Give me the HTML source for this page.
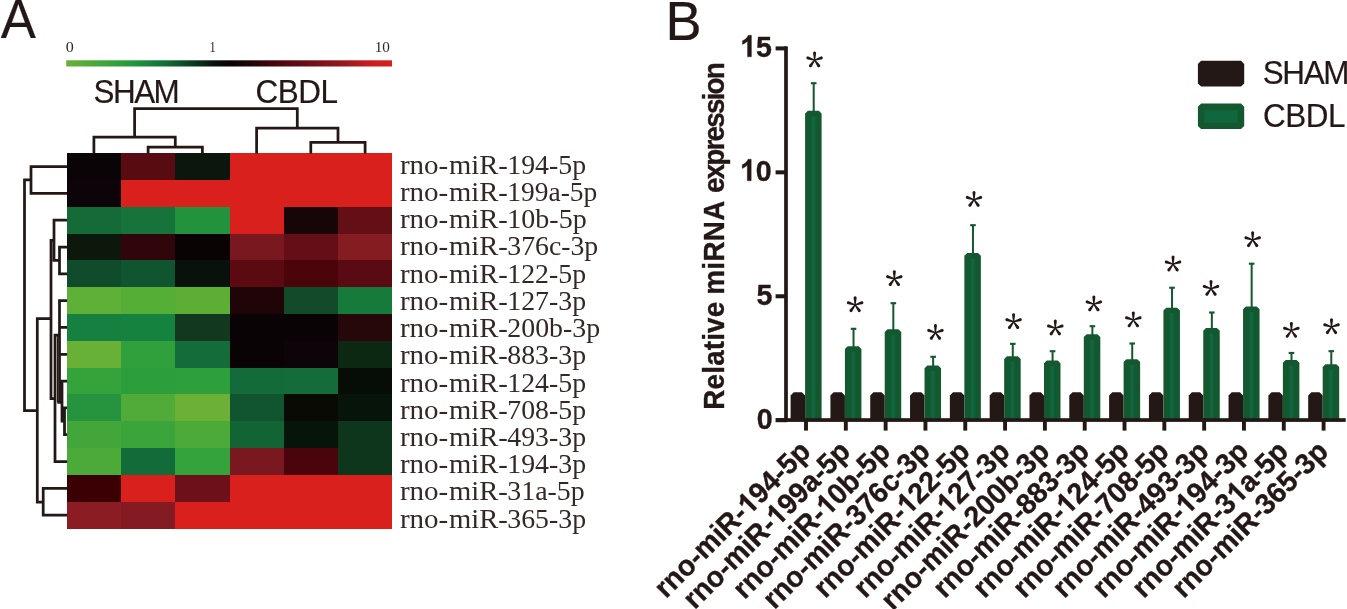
<!DOCTYPE html>
<html><head><meta charset="utf-8"><title>figure</title>
<style>
html,body{margin:0;padding:0;background:#fff;}
body{width:1347px;height:609px;overflow:hidden;position:relative;}
svg{position:absolute;left:0;top:0;display:block;will-change:transform;}
text{font-family:"Liberation Sans",sans-serif;fill:#231815;font-kerning:none;white-space:pre;stroke:#231815;stroke-width:0.2px;}
.sf{font-family:"Liberation Serif",serif;stroke:none;fill:#332825;}
.b{font-weight:bold;stroke:#231815;stroke-width:0.35px;}
.h{fill:none;stroke:none;}
</style></head><body>
<svg width="1347" height="609" viewBox="0 0 1347 609">
<defs>
<linearGradient id="cb" x1="0" y1="0" x2="1" y2="0">
<stop offset="0.00" stop-color="#6ab135"/>
<stop offset="0.10" stop-color="#45a739"/>
<stop offset="0.20" stop-color="#229a3c"/>
<stop offset="0.30" stop-color="#137038"/>
<stop offset="0.38" stop-color="#0d4022"/>
<stop offset="0.45" stop-color="#08140b"/>
<stop offset="0.50" stop-color="#070304"/>
<stop offset="0.56" stop-color="#1c0406"/>
<stop offset="0.65" stop-color="#4a060c"/>
<stop offset="0.75" stop-color="#6e101a"/>
<stop offset="0.85" stop-color="#93191f"/>
<stop offset="0.93" stop-color="#c61e1e"/>
<stop offset="1.00" stop-color="#d9201d"/>
</linearGradient>
<linearGradient id="bh" x1="0" y1="0" x2="1" y2="0"><stop offset="0" stop-color="#13582f"/><stop offset="0.3" stop-color="#11633b"/><stop offset="0.5" stop-color="#0f6a43"/><stop offset="0.7" stop-color="#11633b"/><stop offset="1" stop-color="#13582f"/></linearGradient>
<g id="ast" fill="#231815">
<path d="M-0.55 0.3 L-1.45 -6.5 A1.55 1.55 0 1 1 1.45 -6.5 L0.55 0.3 Z" transform="rotate(0)"/>
<path d="M-0.55 0.3 L-1.45 -6.5 A1.55 1.55 0 1 1 1.45 -6.5 L0.55 0.3 Z" transform="rotate(72)"/>
<path d="M-0.55 0.3 L-1.45 -6.5 A1.55 1.55 0 1 1 1.45 -6.5 L0.55 0.3 Z" transform="rotate(144)"/>
<path d="M-0.55 0.3 L-1.45 -6.5 A1.55 1.55 0 1 1 1.45 -6.5 L0.55 0.3 Z" transform="rotate(216)"/>
<path d="M-0.55 0.3 L-1.45 -6.5 A1.55 1.55 0 1 1 1.45 -6.5 L0.55 0.3 Z" transform="rotate(288)"/>
</g>
</defs>
<text font-size="53.60" x="-0.10" y="0" transform="translate(0.80 38.40) scale(0.9820 1.0413)">A</text>
<rect x="66.2" y="60.3" width="325.8" height="6.2" fill="url(#cb)"/>
<text class="sf" font-size="14.50" x="-0.55" y="0" transform="translate(66.30 51.90) scale(1.1065 1.0000)">0</text>
<text class="sf" font-size="14.50" x="-1.27" y="0" transform="translate(210.50 51.90) scale(0.8619 1.0000)">1</text>
<text class="sf" font-size="14.50" x="-1.27" y="0" transform="translate(376.00 51.90) scale(1.0494 1.0000)">10</text>
<text font-size="31.40" x="-1.43" y="0" letter-spacing="-1.506" transform="translate(95.00 102.90) scale(1 1.0323)">SHAM</text>
<text font-size="31.40" x="-1.59" y="0" letter-spacing="-0.474" transform="translate(257.10 102.90) scale(1 1.0323)">CBDL</text>
<g shape-rendering="crispEdges">
<rect x="67" y="153" width="54" height="27" fill="#0b0406"/>
<rect x="121" y="153" width="54" height="27" fill="#580b10"/>
<rect x="175" y="153" width="55" height="27" fill="#0b160c"/>
<rect x="230" y="153" width="54" height="27" fill="#d9201d"/>
<rect x="284" y="153" width="54" height="27" fill="#d9201d"/>
<rect x="338" y="153" width="54" height="27" fill="#d9201d"/>
<rect x="67" y="180" width="54" height="27" fill="#0c0408"/>
<rect x="121" y="180" width="54" height="27" fill="#d9201d"/>
<rect x="175" y="180" width="55" height="27" fill="#d9201d"/>
<rect x="230" y="180" width="54" height="27" fill="#d9201d"/>
<rect x="284" y="180" width="54" height="27" fill="#d9201d"/>
<rect x="338" y="180" width="54" height="27" fill="#d9201d"/>
<rect x="67" y="207" width="54" height="27" fill="#146b38"/>
<rect x="121" y="207" width="54" height="27" fill="#16733a"/>
<rect x="175" y="207" width="55" height="27" fill="#23923c"/>
<rect x="230" y="207" width="54" height="27" fill="#d9201d"/>
<rect x="284" y="207" width="54" height="27" fill="#170508"/>
<rect x="338" y="207" width="54" height="27" fill="#640e16"/>
<rect x="67" y="234" width="54" height="26" fill="#0c180b"/>
<rect x="121" y="234" width="54" height="26" fill="#30060a"/>
<rect x="175" y="234" width="55" height="26" fill="#090303"/>
<rect x="230" y="234" width="54" height="26" fill="#7a1820"/>
<rect x="284" y="234" width="54" height="26" fill="#660e18"/>
<rect x="338" y="234" width="54" height="26" fill="#851c22"/>
<rect x="67" y="260" width="54" height="27" fill="#104c2c"/>
<rect x="121" y="260" width="54" height="27" fill="#10552f"/>
<rect x="175" y="260" width="55" height="27" fill="#09120a"/>
<rect x="230" y="260" width="54" height="27" fill="#5c0a12"/>
<rect x="284" y="260" width="54" height="27" fill="#4a040a"/>
<rect x="338" y="260" width="54" height="27" fill="#5a0a12"/>
<rect x="67" y="287" width="54" height="27" fill="#5fb036"/>
<rect x="121" y="287" width="54" height="27" fill="#55ae36"/>
<rect x="175" y="287" width="55" height="27" fill="#5cae34"/>
<rect x="230" y="287" width="54" height="27" fill="#200508"/>
<rect x="284" y="287" width="54" height="27" fill="#124a2a"/>
<rect x="338" y="287" width="54" height="27" fill="#157a3a"/>
<rect x="67" y="314" width="54" height="27" fill="#158040"/>
<rect x="121" y="314" width="54" height="27" fill="#158240"/>
<rect x="175" y="314" width="55" height="27" fill="#12381f"/>
<rect x="230" y="314" width="54" height="27" fill="#0a0305"/>
<rect x="284" y="314" width="54" height="27" fill="#0a0305"/>
<rect x="338" y="314" width="54" height="27" fill="#26070a"/>
<rect x="67" y="341" width="54" height="27" fill="#68b036"/>
<rect x="121" y="341" width="54" height="27" fill="#2fa03c"/>
<rect x="175" y="341" width="55" height="27" fill="#136c3a"/>
<rect x="230" y="341" width="54" height="27" fill="#0a0305"/>
<rect x="284" y="341" width="54" height="27" fill="#0c0408"/>
<rect x="338" y="341" width="54" height="27" fill="#0c2812"/>
<rect x="67" y="368" width="54" height="26" fill="#34a33b"/>
<rect x="121" y="368" width="54" height="26" fill="#2c9f3c"/>
<rect x="175" y="368" width="55" height="26" fill="#2da03c"/>
<rect x="230" y="368" width="54" height="26" fill="#136b39"/>
<rect x="284" y="368" width="54" height="26" fill="#146c3a"/>
<rect x="338" y="368" width="54" height="26" fill="#060c06"/>
<rect x="67" y="394" width="54" height="27" fill="#26943f"/>
<rect x="121" y="394" width="54" height="27" fill="#50ab38"/>
<rect x="175" y="394" width="55" height="27" fill="#6cb035"/>
<rect x="230" y="394" width="54" height="27" fill="#10552f"/>
<rect x="284" y="394" width="54" height="27" fill="#0a0a05"/>
<rect x="338" y="394" width="54" height="27" fill="#07140a"/>
<rect x="67" y="421" width="54" height="27" fill="#42a63a"/>
<rect x="121" y="421" width="54" height="27" fill="#3ba43a"/>
<rect x="175" y="421" width="55" height="27" fill="#4caa38"/>
<rect x="230" y="421" width="54" height="27" fill="#126435"/>
<rect x="284" y="421" width="54" height="27" fill="#07140a"/>
<rect x="338" y="421" width="54" height="27" fill="#0e361c"/>
<rect x="67" y="448" width="54" height="27" fill="#4caa38"/>
<rect x="121" y="448" width="54" height="27" fill="#126c3a"/>
<rect x="175" y="448" width="55" height="27" fill="#34a33b"/>
<rect x="230" y="448" width="54" height="27" fill="#7a1820"/>
<rect x="284" y="448" width="54" height="27" fill="#4c040c"/>
<rect x="338" y="448" width="54" height="27" fill="#0e361c"/>
<rect x="67" y="475" width="54" height="27" fill="#3a0004"/>
<rect x="121" y="475" width="54" height="27" fill="#d9201d"/>
<rect x="175" y="475" width="55" height="27" fill="#6e101a"/>
<rect x="230" y="475" width="54" height="27" fill="#d9201d"/>
<rect x="284" y="475" width="54" height="27" fill="#d9201d"/>
<rect x="338" y="475" width="54" height="27" fill="#d9201d"/>
<rect x="67" y="502" width="54" height="27" fill="#8c1c24"/>
<rect x="121" y="502" width="54" height="27" fill="#841a22"/>
<rect x="175" y="502" width="55" height="27" fill="#d9201d"/>
<rect x="230" y="502" width="54" height="27" fill="#d9201d"/>
<rect x="284" y="502" width="54" height="27" fill="#d9201d"/>
<rect x="338" y="502" width="54" height="27" fill="#d9201d"/>
</g>
<text class="sf" font-size="27.10" x="-0.54" y="0" transform="translate(400.50 173.80) scale(1.0704 1.0000)">rno-</text>
<text class="sf" font-size="27.10" x="-0.57" y="0" transform="translate(449.60 173.80) scale(1.0580 1.0000)">miR-</text>
<text class="sf" font-size="27.10" x="0" y="0" transform="translate(507.30 173.80) scale(1.0262 1)">194-5p</text>
<text class="sf" font-size="27.10" x="-0.54" y="0" transform="translate(400.50 201.02) scale(1.0704 1.0000)">rno-</text>
<text class="sf" font-size="27.10" x="-0.57" y="0" transform="translate(449.60 201.02) scale(1.0580 1.0000)">miR-</text>
<text class="sf" font-size="27.10" x="0" y="0" transform="translate(507.30 201.02) scale(1.0143 1)">199a-5p</text>
<text class="sf" font-size="27.10" x="-0.54" y="0" transform="translate(400.50 228.24) scale(1.0704 1.0000)">rno-</text>
<text class="sf" font-size="27.10" x="-0.57" y="0" transform="translate(449.60 228.24) scale(1.0580 1.0000)">miR-</text>
<text class="sf" font-size="27.10" x="0" y="0" transform="translate(507.30 228.24) scale(1.0341 1)">10b-5p</text>
<text class="sf" font-size="27.10" x="-0.54" y="0" transform="translate(400.50 255.46) scale(1.0704 1.0000)">rno-</text>
<text class="sf" font-size="27.10" x="-0.57" y="0" transform="translate(449.60 255.46) scale(1.0580 1.0000)">miR-</text>
<text class="sf" font-size="27.10" x="0" y="0" transform="translate(507.30 255.46) scale(1.0246 1)">376c-3p</text>
<text class="sf" font-size="27.10" x="-0.54" y="0" transform="translate(400.50 282.68) scale(1.0704 1.0000)">rno-</text>
<text class="sf" font-size="27.10" x="-0.57" y="0" transform="translate(449.60 282.68) scale(1.0580 1.0000)">miR-</text>
<text class="sf" font-size="27.10" x="0" y="0" transform="translate(507.30 282.68) scale(1.0262 1)">122-5p</text>
<text class="sf" font-size="27.10" x="-0.54" y="0" transform="translate(400.50 309.90) scale(1.0704 1.0000)">rno-</text>
<text class="sf" font-size="27.10" x="-0.57" y="0" transform="translate(449.60 309.90) scale(1.0580 1.0000)">miR-</text>
<text class="sf" font-size="27.10" x="0" y="0" transform="translate(507.30 309.90) scale(1.0262 1)">127-3p</text>
<text class="sf" font-size="27.10" x="-0.54" y="0" transform="translate(400.50 337.12) scale(1.0704 1.0000)">rno-</text>
<text class="sf" font-size="27.10" x="-0.57" y="0" transform="translate(449.60 337.12) scale(1.0580 1.0000)">miR-</text>
<text class="sf" font-size="27.10" x="0" y="0" transform="translate(507.30 337.12) scale(1.0273 1)">200b-3p</text>
<text class="sf" font-size="27.10" x="-0.54" y="0" transform="translate(400.50 364.34) scale(1.0704 1.0000)">rno-</text>
<text class="sf" font-size="27.10" x="-0.57" y="0" transform="translate(449.60 364.34) scale(1.0580 1.0000)">miR-</text>
<text class="sf" font-size="27.10" x="0" y="0" transform="translate(507.30 364.34) scale(1.0262 1)">883-3p</text>
<text class="sf" font-size="27.10" x="-0.54" y="0" transform="translate(400.50 391.56) scale(1.0704 1.0000)">rno-</text>
<text class="sf" font-size="27.10" x="-0.57" y="0" transform="translate(449.60 391.56) scale(1.0580 1.0000)">miR-</text>
<text class="sf" font-size="27.10" x="0" y="0" transform="translate(507.30 391.56) scale(1.0262 1)">124-5p</text>
<text class="sf" font-size="27.10" x="-0.54" y="0" transform="translate(400.50 418.78) scale(1.0704 1.0000)">rno-</text>
<text class="sf" font-size="27.10" x="-0.57" y="0" transform="translate(449.60 418.78) scale(1.0580 1.0000)">miR-</text>
<text class="sf" font-size="27.10" x="0" y="0" transform="translate(507.30 418.78) scale(1.0262 1)">708-5p</text>
<text class="sf" font-size="27.10" x="-0.54" y="0" transform="translate(400.50 446.00) scale(1.0704 1.0000)">rno-</text>
<text class="sf" font-size="27.10" x="-0.57" y="0" transform="translate(449.60 446.00) scale(1.0580 1.0000)">miR-</text>
<text class="sf" font-size="27.10" x="0" y="0" transform="translate(507.30 446.00) scale(1.0262 1)">493-3p</text>
<text class="sf" font-size="27.10" x="-0.54" y="0" transform="translate(400.50 473.22) scale(1.0704 1.0000)">rno-</text>
<text class="sf" font-size="27.10" x="-0.57" y="0" transform="translate(449.60 473.22) scale(1.0580 1.0000)">miR-</text>
<text class="sf" font-size="27.10" x="0" y="0" transform="translate(507.30 473.22) scale(1.0262 1)">194-3p</text>
<text class="sf" font-size="27.10" x="-0.54" y="0" transform="translate(400.50 500.44) scale(1.0704 1.0000)">rno-</text>
<text class="sf" font-size="27.10" x="-0.57" y="0" transform="translate(449.60 500.44) scale(1.0580 1.0000)">miR-</text>
<text class="sf" font-size="27.10" x="0" y="0" transform="translate(507.30 500.44) scale(1.0284 1)">31a-5p</text>
<text class="sf" font-size="27.10" x="-0.54" y="0" transform="translate(400.50 527.66) scale(1.0704 1.0000)">rno-</text>
<text class="sf" font-size="27.10" x="-0.57" y="0" transform="translate(449.60 527.66) scale(1.0580 1.0000)">miR-</text>
<text class="sf" font-size="27.10" x="0" y="0" transform="translate(507.30 527.66) scale(1.0262 1)">365-3p</text>
<path d="M148.1 153.4 V147 H202.4 V153.4 M175.3 147 V137 M93.9 153.4 V137 H176.6 M134.6 137 V108.6 H297.3 V128 M256.6 153.4 V128 H338.0 V142.4 M310.8 153.4 V142.4 H365.1 V153.4 " fill="none" stroke="#231815" stroke-width="2.75" stroke-linejoin="miter" stroke-linecap="butt"/>
<path d="M67.1 166.5 H31 V193.3 H67.1 M31 179.9 H24.5 V410.5 H37.3 M67.1 247.0 H59.5 V273.8 H67.1 M59.5 260.4 H54 M67.1 220.2 H54 V261.7 M54 240.3 H51 V398.5 H55 M51 318.6 H37.3 V502 H43.2 M67.1 488.4 H43.2 V515.2 H67.1 M67.1 300.6 H59.5 V402.3 M67.1 327.4 H59.5 M67.1 354.3 H59.5 M59.5 335 H55 V461.5 H67.1 M57.4 402.3 H62 M67.1 381.1 H62 V421 H64.5 M67.1 407.9 H64.5 V434.7 H67.1 " fill="none" stroke="#231815" stroke-width="2.75" stroke-linejoin="miter" stroke-linecap="butt"/>
<path d="M57.5 335.5 V402.3" fill="none" stroke="#231815" stroke-width="1.30" stroke-linejoin="miter" stroke-linecap="butt"/>
<text font-size="53.60" x="-4.40" y="0" transform="translate(670.00 39.90) scale(1.0096 1.0413)">B</text>
<g fill="#231815">
<rect x="784.15" y="46.40" width="3.70" height="375.65"/>
<rect x="775.6" y="418.20" width="11" height="4"/>
<rect x="775.6" y="294.27" width="11" height="4"/>
<rect x="775.6" y="170.33" width="11" height="4"/>
<rect x="775.6" y="46.40" width="11" height="4"/>
<rect x="804.05" y="420.20" width="3.9" height="10.40"/>
<rect x="843.87" y="420.20" width="3.9" height="10.40"/>
<rect x="883.68" y="420.20" width="3.9" height="10.40"/>
<rect x="923.49" y="420.20" width="3.9" height="10.40"/>
<rect x="963.31" y="420.20" width="3.9" height="10.40"/>
<rect x="1003.12" y="420.20" width="3.9" height="10.40"/>
<rect x="1042.94" y="420.20" width="3.9" height="10.40"/>
<rect x="1082.75" y="420.20" width="3.9" height="10.40"/>
<rect x="1122.57" y="420.20" width="3.9" height="10.40"/>
<rect x="1162.38" y="420.20" width="3.9" height="10.40"/>
<rect x="1202.20" y="420.20" width="3.9" height="10.40"/>
<rect x="1242.01" y="420.20" width="3.9" height="10.40"/>
<rect x="1281.83" y="420.20" width="3.9" height="10.40"/>
<rect x="1321.64" y="420.20" width="3.9" height="10.40"/>
</g>
<g transform="translate(756.67 428.65) scale(1 1.0469)">
<text class="b" font-size="28.60" x="0.00" y="0">0</text>
</g>
<g transform="translate(756.49 304.72) scale(1 1.0469)">
<text class="b" font-size="28.60" x="0.00" y="0">5</text>
</g>
<g transform="translate(739.96 180.78) scale(1 1.0469)">
<text class="b" font-size="28.60" x="0.00" y="0"><tspan class="h">1</tspan>0</text>
<path class="b" fill="#231815" d="M806 0H525V1059Q371 915 162 846V1101Q272 1137 401 1237.5Q530 1338 578 1472H806Z" transform="translate(0.00 0) scale(0.01396 -0.01396)" style="stroke-width:25.1px"/>
</g>
<g transform="translate(740.18 56.85) scale(1 1.0469)">
<text class="b" font-size="28.60" x="0.00" y="0"><tspan class="h">1</tspan>5</text>
<path class="b" fill="#231815" d="M806 0H525V1059Q371 915 162 846V1101Q272 1137 401 1237.5Q530 1338 578 1472H806Z" transform="translate(0.00 0) scale(0.01396 -0.01396)" style="stroke-width:25.1px"/>
</g>
<text class="b" font-size="27.80" x="-1.86" y="0" letter-spacing="0.183" transform="translate(724.3 407.80) rotate(-90) scale(1 1.0352)">Relative</text>
<text class="b" font-size="27.80" x="-1.83" y="0" letter-spacing="0.399" transform="translate(724.3 293.00) rotate(-90) scale(1 1.0352)">miRNA</text>
<text class="b" font-size="27.80" x="-1.09" y="0" letter-spacing="-1.787" transform="translate(724.3 191.90) rotate(-90) scale(1 1.0352)">expression</text>
<path d="M790.60 420.20 V395.50 L793.80 392.30 H801.90 L805.10 395.50 V420.20 Z" fill="#231815"/>
<path d="M805.10 420.20 V113.60 L807.90 110.80 H818.80 L821.60 113.60 V420.20 Z" fill="#13582f"/>
<rect x="810.20" y="116.40" width="6.4" height="303.80" fill="url(#bh)"/>
<rect x="812.70" y="83.20" width="2" height="28.60" fill="#13582f"/>
<rect x="810.90" y="82.15" width="5.6" height="2.1" fill="#13582f"/>
<use href="#ast" x="814.60" y="60.10"/>
<path d="M830.42 420.20 V395.50 L833.62 392.30 H841.72 L844.92 395.50 V420.20 Z" fill="#231815"/>
<path d="M844.92 420.20 V349.00 L847.72 346.20 H858.62 L861.42 349.00 V420.20 Z" fill="#13582f"/>
<rect x="850.02" y="351.80" width="6.4" height="68.40" fill="url(#bh)"/>
<rect x="852.52" y="328.80" width="2" height="18.40" fill="#13582f"/>
<rect x="850.72" y="327.75" width="5.6" height="2.1" fill="#13582f"/>
<use href="#ast" x="855.12" y="304.90"/>
<path d="M870.23 420.20 V395.50 L873.43 392.30 H881.53 L884.73 395.50 V420.20 Z" fill="#231815"/>
<path d="M884.73 420.20 V332.00 L887.53 329.20 H898.43 L901.23 332.00 V420.20 Z" fill="#13582f"/>
<rect x="889.83" y="334.80" width="6.4" height="85.40" fill="url(#bh)"/>
<rect x="892.33" y="303.20" width="2" height="27.00" fill="#13582f"/>
<rect x="890.53" y="302.15" width="5.6" height="2.1" fill="#13582f"/>
<use href="#ast" x="894.33" y="278.80"/>
<path d="M910.04 420.20 V395.50 L913.25 392.30 H921.34 L924.54 395.50 V420.20 Z" fill="#231815"/>
<path d="M924.54 420.20 V368.30 L927.34 365.50 H938.25 L941.04 368.30 V420.20 Z" fill="#13582f"/>
<rect x="929.64" y="371.10" width="6.4" height="49.10" fill="url(#bh)"/>
<rect x="932.14" y="356.80" width="2" height="9.70" fill="#13582f"/>
<rect x="930.35" y="355.75" width="5.6" height="2.1" fill="#13582f"/>
<use href="#ast" x="935.44" y="332.60"/>
<path d="M949.86 420.20 V395.50 L953.06 392.30 H961.16 L964.36 395.50 V420.20 Z" fill="#231815"/>
<path d="M964.36 420.20 V255.80 L967.16 253.00 H978.06 L980.86 255.80 V420.20 Z" fill="#13582f"/>
<rect x="969.46" y="258.60" width="6.4" height="161.60" fill="url(#bh)"/>
<rect x="971.96" y="225.20" width="2" height="28.80" fill="#13582f"/>
<rect x="970.16" y="224.15" width="5.6" height="2.1" fill="#13582f"/>
<use href="#ast" x="974.01" y="199.60"/>
<path d="M989.68 420.20 V395.50 L992.88 392.30 H1000.98 L1004.18 395.50 V420.20 Z" fill="#231815"/>
<path d="M1004.18 420.20 V359.00 L1006.98 356.20 H1017.88 L1020.68 359.00 V420.20 Z" fill="#13582f"/>
<rect x="1009.28" y="361.80" width="6.4" height="58.40" fill="url(#bh)"/>
<rect x="1011.78" y="343.85" width="2" height="13.35" fill="#13582f"/>
<rect x="1009.98" y="342.80" width="5.6" height="2.1" fill="#13582f"/>
<use href="#ast" x="1013.58" y="321.80"/>
<path d="M1029.49 420.20 V395.50 L1032.69 392.30 H1040.79 L1043.99 395.50 V420.20 Z" fill="#231815"/>
<path d="M1043.99 420.20 V363.20 L1046.79 360.40 H1057.69 L1060.49 363.20 V420.20 Z" fill="#13582f"/>
<rect x="1049.09" y="366.00" width="6.4" height="54.20" fill="url(#bh)"/>
<rect x="1051.59" y="351.20" width="2" height="10.20" fill="#13582f"/>
<rect x="1049.79" y="350.15" width="5.6" height="2.1" fill="#13582f"/>
<use href="#ast" x="1055.29" y="328.15"/>
<path d="M1069.30 420.20 V395.50 L1072.50 392.30 H1080.60 L1083.80 395.50 V420.20 Z" fill="#231815"/>
<path d="M1083.80 420.20 V337.10 L1086.60 334.30 H1097.50 L1100.30 337.10 V420.20 Z" fill="#13582f"/>
<rect x="1088.90" y="339.90" width="6.4" height="80.30" fill="url(#bh)"/>
<rect x="1091.40" y="326.20" width="2" height="9.10" fill="#13582f"/>
<rect x="1089.61" y="325.15" width="5.6" height="2.1" fill="#13582f"/>
<use href="#ast" x="1093.86" y="304.10"/>
<path d="M1109.12 420.20 V395.50 L1112.32 392.30 H1120.42 L1123.62 395.50 V420.20 Z" fill="#231815"/>
<path d="M1123.62 420.20 V361.95 L1126.42 359.15 H1137.32 L1140.12 361.95 V420.20 Z" fill="#13582f"/>
<rect x="1128.72" y="364.75" width="6.4" height="55.45" fill="url(#bh)"/>
<rect x="1131.22" y="343.50" width="2" height="16.65" fill="#13582f"/>
<rect x="1129.42" y="342.45" width="5.6" height="2.1" fill="#13582f"/>
<use href="#ast" x="1133.32" y="320.00"/>
<path d="M1148.93 420.20 V395.50 L1152.13 392.30 H1160.23 L1163.43 395.50 V420.20 Z" fill="#231815"/>
<path d="M1163.43 420.20 V310.50 L1166.23 307.70 H1177.13 L1179.93 310.50 V420.20 Z" fill="#13582f"/>
<rect x="1168.54" y="313.30" width="6.4" height="106.90" fill="url(#bh)"/>
<rect x="1171.04" y="287.75" width="2" height="20.95" fill="#13582f"/>
<rect x="1169.24" y="286.70" width="5.6" height="2.1" fill="#13582f"/>
<use href="#ast" x="1173.04" y="264.20"/>
<path d="M1188.75 420.20 V395.50 L1191.95 392.30 H1200.05 L1203.25 395.50 V420.20 Z" fill="#231815"/>
<path d="M1203.25 420.20 V330.80 L1206.05 328.00 H1216.95 L1219.75 330.80 V420.20 Z" fill="#13582f"/>
<rect x="1208.35" y="333.60" width="6.4" height="86.60" fill="url(#bh)"/>
<rect x="1210.85" y="312.50" width="2" height="16.50" fill="#13582f"/>
<rect x="1209.05" y="311.45" width="5.6" height="2.1" fill="#13582f"/>
<use href="#ast" x="1211.00" y="288.60"/>
<path d="M1228.56 420.20 V395.50 L1231.76 392.30 H1239.86 L1243.06 395.50 V420.20 Z" fill="#231815"/>
<path d="M1243.06 420.20 V309.20 L1245.86 306.40 H1256.76 L1259.56 309.20 V420.20 Z" fill="#13582f"/>
<rect x="1248.16" y="312.00" width="6.4" height="108.20" fill="url(#bh)"/>
<rect x="1250.66" y="263.70" width="2" height="43.70" fill="#13582f"/>
<rect x="1248.87" y="262.65" width="5.6" height="2.1" fill="#13582f"/>
<use href="#ast" x="1252.66" y="239.90"/>
<path d="M1268.38 420.20 V395.50 L1271.58 392.30 H1279.68 L1282.88 395.50 V420.20 Z" fill="#231815"/>
<path d="M1282.88 420.20 V362.75 L1285.68 359.95 H1296.58 L1299.38 362.75 V420.20 Z" fill="#13582f"/>
<rect x="1287.98" y="365.55" width="6.4" height="54.65" fill="url(#bh)"/>
<rect x="1290.48" y="352.95" width="2" height="8.00" fill="#13582f"/>
<rect x="1288.68" y="351.90" width="5.6" height="2.1" fill="#13582f"/>
<use href="#ast" x="1291.38" y="330.50"/>
<path d="M1308.19 420.20 V395.50 L1311.39 392.30 H1319.49 L1322.69 395.50 V420.20 Z" fill="#231815"/>
<path d="M1322.69 420.20 V367.10 L1325.49 364.30 H1336.39 L1339.19 367.10 V420.20 Z" fill="#13582f"/>
<rect x="1327.80" y="369.90" width="6.4" height="50.30" fill="url(#bh)"/>
<rect x="1330.30" y="351.15" width="2" height="14.15" fill="#13582f"/>
<rect x="1328.50" y="350.10" width="5.6" height="2.1" fill="#13582f"/>
<use href="#ast" x="1331.50" y="326.90"/>
<rect x="775.9" y="418.20" width="569.80" height="3.7" fill="#231815"/>
<g transform="translate(812.30 453.00) rotate(-45) scale(1 1.0300)">
<text class="b" font-size="28.20" x="-206.83" y="0">rno-miR-<tspan class="h">1</tspan>94-5p</text>
<path class="b" fill="#231815" d="M806 0H525V1059Q371 915 162 846V1101Q272 1137 401 1237.5Q530 1338 578 1472H806Z" transform="translate(-89.35 0) scale(0.01377 -0.01377)" style="stroke-width:25.4px"/>
</g>
<g transform="translate(852.12 453.00) rotate(-45) scale(1 1.0300)">
<text class="b" font-size="28.20" x="-222.52" y="0">rno-miR-<tspan class="h">1</tspan>99a-5p</text>
<path class="b" fill="#231815" d="M806 0H525V1059Q371 915 162 846V1101Q272 1137 401 1237.5Q530 1338 578 1472H806Z" transform="translate(-105.03 0) scale(0.01377 -0.01377)" style="stroke-width:25.4px"/>
</g>
<g transform="translate(891.93 453.00) rotate(-45) scale(1 1.0300)">
<text class="b" font-size="28.20" x="-208.37" y="0">rno-miR-<tspan class="h">1</tspan>0b-5p</text>
<path class="b" fill="#231815" d="M806 0H525V1059Q371 915 162 846V1101Q272 1137 401 1237.5Q530 1338 578 1472H806Z" transform="translate(-90.89 0) scale(0.01377 -0.01377)" style="stroke-width:25.4px"/>
</g>
<g transform="translate(931.74 453.00) rotate(-45) scale(1 1.0300)">
<text class="b" font-size="28.20" x="-222.52" y="0">rno-miR-376c-3p</text>
</g>
<g transform="translate(971.56 453.00) rotate(-45) scale(1 1.0300)">
<text class="b" font-size="28.20" x="-206.83" y="0">rno-miR-<tspan class="h">1</tspan>22-5p</text>
<path class="b" fill="#231815" d="M806 0H525V1059Q371 915 162 846V1101Q272 1137 401 1237.5Q530 1338 578 1472H806Z" transform="translate(-89.35 0) scale(0.01377 -0.01377)" style="stroke-width:25.4px"/>
</g>
<g transform="translate(1011.38 453.00) rotate(-45) scale(1 1.0300)">
<text class="b" font-size="28.20" x="-206.83" y="0">rno-miR-<tspan class="h">1</tspan>27-3p</text>
<path class="b" fill="#231815" d="M806 0H525V1059Q371 915 162 846V1101Q272 1137 401 1237.5Q530 1338 578 1472H806Z" transform="translate(-89.35 0) scale(0.01377 -0.01377)" style="stroke-width:25.4px"/>
</g>
<g transform="translate(1051.19 453.00) rotate(-45) scale(1 1.0300)">
<text class="b" font-size="28.20" x="-224.06" y="0">rno-miR-200b-3p</text>
</g>
<g transform="translate(1091.00 453.00) rotate(-45) scale(1 1.0300)">
<text class="b" font-size="28.20" x="-206.83" y="0">rno-miR-883-3p</text>
</g>
<g transform="translate(1130.82 453.00) rotate(-45) scale(1 1.0300)">
<text class="b" font-size="28.20" x="-206.83" y="0">rno-miR-<tspan class="h">1</tspan>24-5p</text>
<path class="b" fill="#231815" d="M806 0H525V1059Q371 915 162 846V1101Q272 1137 401 1237.5Q530 1338 578 1472H806Z" transform="translate(-89.35 0) scale(0.01377 -0.01377)" style="stroke-width:25.4px"/>
</g>
<g transform="translate(1170.63 453.00) rotate(-45) scale(1 1.0300)">
<text class="b" font-size="28.20" x="-206.83" y="0">rno-miR-708-5p</text>
</g>
<g transform="translate(1210.45 453.00) rotate(-45) scale(1 1.0300)">
<text class="b" font-size="28.20" x="-206.83" y="0">rno-miR-493-3p</text>
</g>
<g transform="translate(1250.26 453.00) rotate(-45) scale(1 1.0300)">
<text class="b" font-size="28.20" x="-206.83" y="0">rno-miR-<tspan class="h">1</tspan>94-3p</text>
<path class="b" fill="#231815" d="M806 0H525V1059Q371 915 162 846V1101Q272 1137 401 1237.5Q530 1338 578 1472H806Z" transform="translate(-89.35 0) scale(0.01377 -0.01377)" style="stroke-width:25.4px"/>
</g>
<g transform="translate(1290.08 453.00) rotate(-45) scale(1 1.0300)">
<text class="b" font-size="28.20" x="-206.83" y="0">rno-miR-3<tspan class="h">1</tspan>a-5p</text>
<path class="b" fill="#231815" d="M806 0H525V1059Q371 915 162 846V1101Q272 1137 401 1237.5Q530 1338 578 1472H806Z" transform="translate(-73.67 0) scale(0.01377 -0.01377)" style="stroke-width:25.4px"/>
</g>
<g transform="translate(1329.89 453.00) rotate(-45) scale(1 1.0300)">
<text class="b" font-size="28.20" x="-206.83" y="0">rno-miR-365-3p</text>
</g>
<path d="M1201.1 60.8 H1241.0 L1244.2 64.0 V83.4 L1241.0 86.6 H1201.1 L1197.9 83.4 V64.0 Z" fill="#231815"/>
<path d="M1201.1 103.5 H1241.0 L1244.2 106.7 V125.9 L1241.0 129.1 H1201.1 L1197.9 125.9 V106.7 Z" fill="#13582f"/>
<rect x="1204.1" y="110.1" width="33.7" height="12.6" fill="#10663f"/>
<text font-size="31.40" x="-1.43" y="0" letter-spacing="-1.306" transform="translate(1264.10 83.50) scale(1 1.0323)">SHAM</text>
<text font-size="31.40" x="-1.59" y="0" letter-spacing="-0.441" transform="translate(1264.50 126.50) scale(1 1.0323)">CBDL</text>
</svg>
</body></html>
